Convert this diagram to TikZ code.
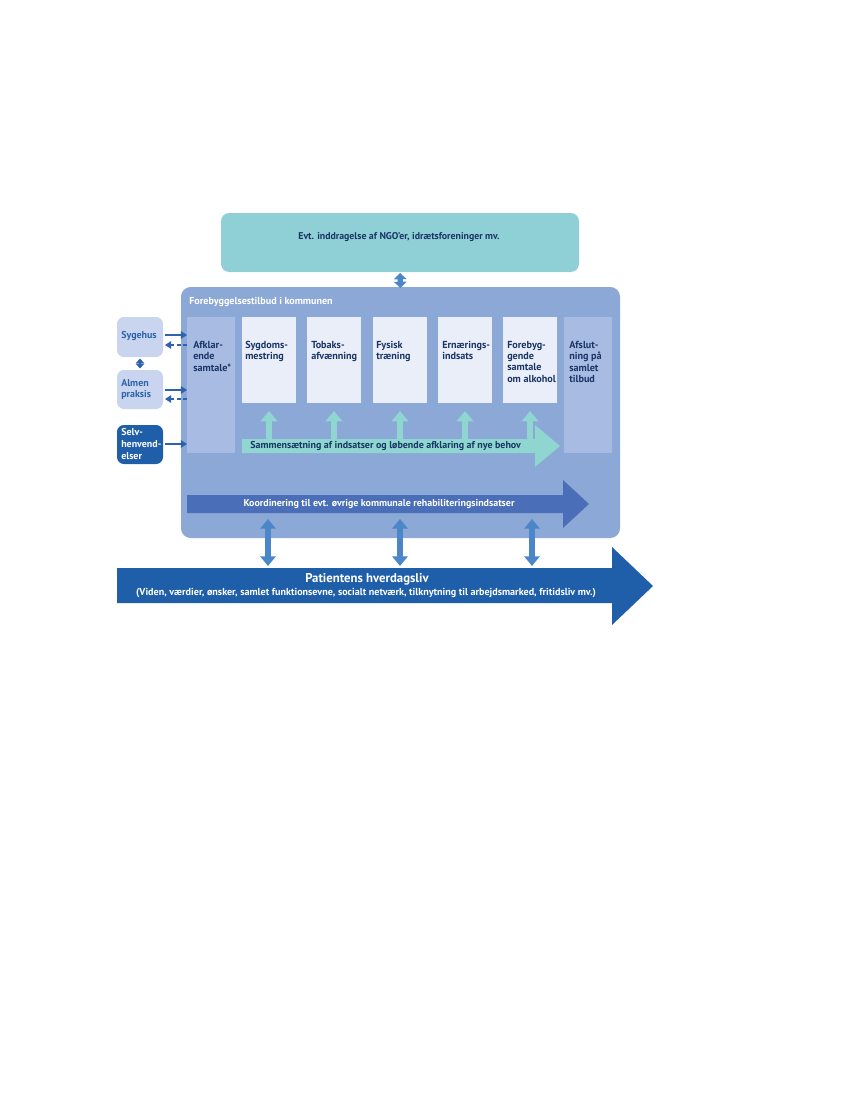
\documentclass[tikz,border=0pt]{standalone}
\usepackage{fontspec}
\setmainfont{PT Sans}
\usetikzlibrary{arrows.meta,fit,calc}
\definecolor{ngoteal}{HTML}{8FCFD6}
\definecolor{mainbg}{HTML}{8CA8D6}
\definecolor{colbg}{HTML}{A8BCE3}
\definecolor{wbox}{HTML}{E9EEF8}
\definecolor{lbox}{HTML}{C9D5EE}
\definecolor{dblue}{HTML}{1F5EA8}
\definecolor{mint}{HTML}{8ED6CF}
\definecolor{koord}{HTML}{4A6EB8}
\definecolor{varrow}{HTML}{4A86C8}
\definecolor{navy}{HTML}{1A3566}
\definecolor{lblue}{HTML}{2C62AE}
\begin{document}
\begin{tikzpicture}[x=0.01in,y=-0.01in,
  area/.style={inner sep=0pt,outer sep=0pt,draw=none},
  ngobox/.style={area,fill=ngoteal,rounded corners=6pt},
  mainbox/.style={area,fill=mainbg,rounded corners=7pt},
  colbox/.style={area,fill=colbg},
  whitebox/.style={area,fill=wbox},
  sidebox/.style={area,fill=lbox,rounded corners=5pt},
  selfbox/.style={area,fill=dblue,rounded corners=5pt},
  txt/.style={inner sep=0pt,anchor=north west,align=left,text=navy,
    font=\fontsize{7.35}{8.15}\selectfont\bfseries},
  sidetxt/.style={inner sep=0pt,anchor=west,align=left,text=lblue,
    font=\fontsize{7.2}{8.4}\selectfont\bfseries},
  solidar/.style={lblue,line width=1.1pt,-{Triangle[width=5.5pt,length=4.5pt]}},
  dashar/.style={lblue,line width=1.1pt,dash pattern=on 2.6pt off 2pt,-{Triangle[width=5.5pt,length=4.5pt]}},
  smalldbl/.style={lblue,line width=1.6pt,{Triangle[width=6pt,length=3.5pt]}-{Triangle[width=6pt,length=3.5pt]}},
  topdbl/.style={varrow,line width=3.8pt,{Triangle[width=9pt,length=4.5pt]}-{Triangle[width=9pt,length=4.5pt]}},
  vdbl/.style={varrow,line width=4.2pt,{Triangle[width=11pt,length=7pt]}-{Triangle[width=11pt,length=7pt]}},
  upar/.style={mint,line width=3.8pt,-{Triangle[width=12pt,length=7.5pt]},shorten >=5.8pt}
]
\useasboundingbox (0,0) rectangle (850,1100);

% top NGO box
\node[ngobox,fit={(221,213) (579,272)}] (ngo) {};
\node[inner sep=0pt,text=navy,font=\fontsize{7.1}{8}\selectfont\bfseries] (ngoT) at (399,237) {Evt. inddragelse af NGO'er, idrætsforeninger mv.};

% main box
\node[mainbox,fit={(181,287) (620,538)}] (main) {};
\node[inner sep=0pt,anchor=west,text=white,font=\fontsize{7.3}{8}\selectfont\bfseries] (mainT) at (189,302) {Forebyggelsestilbud i kommunen};
\draw[topdbl] ($(ngo.south)+(0,1)$) -- ($(main.north)+(0,1)$);

% columns and boxes
\node[colbox,fit={(187,317) (235,453)}] (afk) {};
\node[whitebox,fit={(242,317) (296,403)}] (syg) {};
\node[whitebox,fit={(307,317) (361,403)}] (tob) {};
\node[whitebox,fit={(373,317) (427,403)}] (fys) {};
\node[whitebox,fit={(438,317) (492,403)}] (ern) {};
\node[whitebox,fit={(503,317) (557,403)}] (fore) {};
\node[colbox,fit={(564,317) (612,453)}] (afs) {};

\node[txt] (afkT) at (193,341) {Afklar-\\ende\\samtale*};
\node[txt] (sygT) at (245,341) {Sygdoms-\\mestring};
\node[txt] (tobT) at (311,341) {Tobaks-\\afvænning};
\node[txt] (fysT) at (376,341) {Fysisk\\træning};
\node[txt] (ernT) at (442,341) {Ernærings-\\indsats};
\node[txt] (foreT) at (507,341) {Forebyg-\\gende\\samtale\\om alkohol};
\node[txt] (afsT) at (569,341) {Afslut-\\ning på\\samlet\\tilbud};

% left side boxes
\node[sidebox,fit={(117,317) (163,357)}] (syh) {};
\node[sidebox,fit={(117,370) (163,409)}] (alm) {};
\node[selfbox,fit={(117,425) (163,464)}] (selv) {};
\node[sidetxt] (syhT) at (121,336) {Sygehus};
\node[sidetxt] (almT) at (121,389.5) {Almen\\praksis};
\node[sidetxt,text=white] (selvT) at (121,444) {Selv-\\henvend-\\elser};

\draw[smalldbl] ($(syh.south)+(0,1.5)$) -- ($(alm.north)+(0,-1.5)$);
\draw[solidar] ($(syh.east)+(2,-2)$) -- ($(afk.west |- syh.east)+(0,-2)$);
\draw[dashar] ($(afk.west |- syh.east)+(0,8)$) -- ($(syh.east)+(2,8)$);
\draw[solidar] ($(alm.east)+(2,0.5)$) -- ($(afk.west |- alm.east)+(0,0.5)$);
\draw[dashar] ($(afk.west |- alm.east)+(0,9.5)$) -- ($(alm.east)+(2,9.5)$);
\draw[solidar] ($(selv.east)+(2,-0.5)$) -- ($(afk.west |- selv.east)+(0,-0.5)$);

% teal "Sammensaetning" arrow
\fill[mint] (242,439) -- (535,439) -- (535,425) -- (560,446) -- (535,467) -- (535,453) -- (242,453) -- cycle;
\node[inner sep=0pt,anchor=west,text=navy,font=\fontsize{7.2}{8}\selectfont\bfseries] (samT) at (250,446) {Sammensætning af indsatser og løbende afklaring af nye behov};
\coordinate (samtop) at (0,439);
\draw[upar] (syg.south |- samtop) -- (syg.south);
\draw[upar] (tob.south |- samtop) -- (tob.south);
\draw[upar] (fys.south |- samtop) -- (fys.south);
\draw[upar] (ern.south |- samtop) -- (ern.south);
\draw[upar] (fore.south |- samtop) -- (fore.south);

% Koordinering arrow
\fill[koord] (187,495) -- (563,495) -- (563,480) -- (589,504) -- (563,528) -- (563,513) -- (187,513) -- cycle;
\node[inner sep=0pt,text=white,font=\fontsize{7.2}{8}\selectfont\bfseries] (koT) at (379,504) {Koordinering til evt. øvrige kommunale rehabiliteringsindsatser};

% Patientens arrow
\fill[dblue] (117,568) -- (612,568) -- (612,547) -- (653,586) -- (612,625) -- (612,603) -- (117,603) -- cycle;
\node[inner sep=0pt,text=white,font=\fontsize{9.2}{10}\selectfont\bfseries] (patT) at (367,579) {Patientens hverdagsliv};
\node[inner sep=0pt,text=white,font=\fontsize{7.3}{8}\selectfont\bfseries] (patS) at (366,593) {(Viden, værdier, ønsker, samlet funktionsevne, socialt netværk, tilknytning til arbejdsmarked, fritidsliv mv.)};

% vertical double arrows
\coordinate (d1a) at (268,519); \coordinate (d1b) at (268,566);
\coordinate (d2a) at (400,519); \coordinate (d2b) at (400,566);
\coordinate (d3a) at (532,519); \coordinate (d3b) at (532,566);
\draw[vdbl] (d1a) -- (d1b);
\draw[vdbl] (d2a) -- (d2b);
\draw[vdbl] (d3a) -- (d3b);
\end{tikzpicture}
\end{document}
